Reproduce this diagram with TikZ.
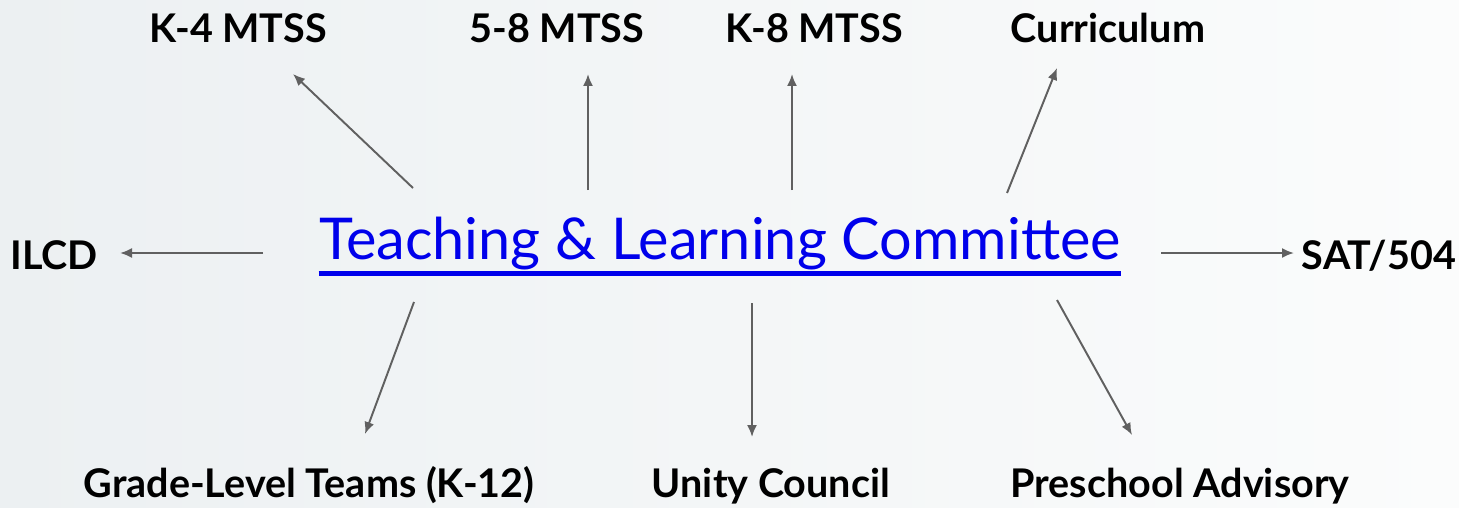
\documentclass[tikz,border=0pt]{standalone}
\usepackage{fontspec}
\setmainfont{Lato}
\usepackage{tikz}
\usetikzlibrary{arrows.meta, positioning}
\definecolor{linkblue}{RGB}{0,0,235}
\definecolor{arrowgray}{RGB}{96,96,96}
\definecolor{bgleft}{RGB}{236,240,242}
\definecolor{bgright}{RGB}{251,252,252}

\begin{document}
\begin{tikzpicture}[x=0.02cm, y=-0.02cm,
topic/.style={font=\fontsize{22.5}{27}\selectfont\bfseries, anchor=base, inner sep=0pt},
hub/.style={font=\fontsize{32.8}{38}\selectfont, text=linkblue, anchor=base, inner sep=0pt},
arr/.style={draw=arrowgray, line width=1.1pt, -{Latex[length=0.24cm,width=0.2cm]}}]
% background
\shade[left color=bgleft, right color=bgright] (0,0) rectangle (1459,507);
\useasboundingbox (0,0) rectangle (1459,507);

% centre
\node[hub] (tlc) at (720,259) {Teaching \& Learning Committee};
\draw[linkblue, line width=0.11cm] ([yshift=-0.29cm]tlc.base west) -- ([yshift=-0.29cm]tlc.base east);

% top row
\node[topic] (k4) at (238,42) {K-4 MTSS};
\node[topic] (g58) at (557,42) {5-8 MTSS};
\node[topic] (k8) at (814,42) {K-8 MTSS};
\node[topic] (curr) at (1108,42) {Curriculum};
% middle row
\node[topic] (ilcd) at (54,269) {ILCD};
\node[topic] (sat) at (1379,269) {SAT/504};
% bottom row
\node[topic] (grade) at (309,497) {Grade-Level Teams (K-12)};
\node[topic] (unity) at (771,497) {Unity Council};
\node[topic] (pre) at (1180,497) {Preschool Advisory};

% arrow ends
\coordinate (k4s) at (413,188);   \coordinate (k4e) at (293,74);
\coordinate (g58s) at (588,190);  \coordinate (g58e) at (588,74);
\coordinate (k8s) at (792,190);   \coordinate (k8e) at (792,74);
\coordinate (currs) at (1007,193);\coordinate (curre) at (1057,68);
\coordinate (ilcds) at (263,253); \coordinate (ilcde) at (120,253);
\coordinate (sats) at (1161,253); \coordinate (sate) at (1294,253);
\coordinate (grades) at (414,302);\coordinate (gradee) at (365,434);
\coordinate (unitys) at (752,303);\coordinate (unitye) at (752,437);
\coordinate (pres) at (1057,300); \coordinate (pree) at (1132,435);

\foreach \n in {k4,g58,k8,curr,ilcd,sat,grade,unity,pre}
  \draw[arr] (\n s) -- (\n e);
\end{tikzpicture}
\end{document}
